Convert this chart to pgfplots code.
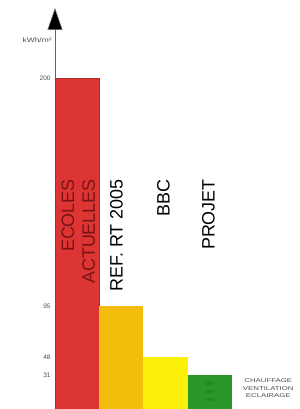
\documentclass[border=0pt]{standalone}
\usepackage{pgfplots}
\pgfplotsset{compat=1.18}
\usepackage{fontspec}
\setmainfont{Liberation Sans}
\usetikzlibrary{arrows.meta}
\definecolor{cRed}{RGB}{221,52,52}
\definecolor{cRedD}{RGB}{120,20,20}
\definecolor{cGold}{RGB}{242,190,10}
\definecolor{cYel}{RGB}{252,240,10}
\definecolor{cGreen}{RGB}{40,150,40}
\definecolor{cGreenD}{RGB}{30,110,30}
\begin{document}
\begin{tikzpicture}
\useasboundingbox (0,0) rectangle (300bp,409bp);
\begin{axis}[
  at={(55bp,0bp)}, anchor=south west,
  scale only axis, width=245bp, height=401bp,
  xmin=0, xmax=5.537, ymin=0, ymax=232.2,
  y coord trafo/.code={\begingroup\pgfkeys{/pgf/fpu=true,/pgf/fpu/output format=fixed}\pgfmathparse{(#1<=95)*(#1*103/95)+(#1>95)*(103+(#1-95)*228/105)}\pgfmathsmuggle\pgfmathresult\endgroup},
  y coord inv trafo/.code={\begingroup\pgfkeys{/pgf/fpu=true,/pgf/fpu/output format=fixed}\pgfmathparse{(#1<=103)*(#1*95/103)+(#1>103)*(95+(#1-103)*105/228)}\pgfmathsmuggle\pgfmathresult\endgroup},
  axis x line=none,
  axis y line*=left,
  axis line style={draw=black!60, line width=0.6pt, -{Triangle[width=15bp,length=22bp,fill=black]}},
  ytick={31,48,95,200}, yticklabels={31,48,95,200},
  ytick style={draw=none},
  yticklabel style={font=\fontsize{6.5}{7}\selectfont, text=black!70, xshift=-1bp},
  /pgf/number format/assume math mode=true,
  clip=false,
]
\addplot[ybar, bar shift=0pt, bar width=1, fill=cRed, draw=cRed!80!black] coordinates {(0.5,200)};
\addplot[ybar, bar shift=0pt, bar width=1, fill=cGold, draw=none] coordinates {(1.5,95)};
\addplot[ybar, bar shift=0pt, bar width=1, fill=cYel, draw=none] coordinates {(2.5,48)};
\addplot[ybar, bar shift=0pt, bar width=1, fill=cGreen, draw=none] coordinates {(3.5,31)};
\node[rotate=90, anchor=east, font=\fontsize{18}{19}\selectfont, text=cRedD] at (axis cs:0.29,155) {ECOLES};
\node[rotate=90, anchor=east, font=\fontsize{18}{19}\selectfont, text=cRedD] at (axis cs:0.76,155) {ACTUELLES};
\node[rotate=90, anchor=east, font=\fontsize{18}{19}\selectfont] at (axis cs:1.39,155) {REF. RT 2005};
\node[rotate=90, anchor=east, font=\fontsize{18}{19}\selectfont] at (axis cs:2.45,155) {BBC};
\node[rotate=90, anchor=east, font=\fontsize{18}{19}\selectfont] at (axis cs:3.47,155) {PROJET};
\node[font=\fontsize{4.5}{8}\selectfont, text=cGreenD, align=center] at (axis cs:3.5,16) {23\%\\30\%\\45\%};
\node[font=\fontsize{5.6}{7.5}\selectfont, text=black!70, align=center, xscale=1.4, inner sep=0pt] at (axis cs:4.82,18.9) {CHAUFFAGE\\VENTILATION\\ECLAIRAGE};
\node[font=\fontsize{6.5}{7}\selectfont, text=black!70, anchor=east, xscale=1.3, inner sep=0pt] at (axis cs:-0.07,217.5) {kWh/m²};
\end{axis}
\end{tikzpicture}
\end{document}
